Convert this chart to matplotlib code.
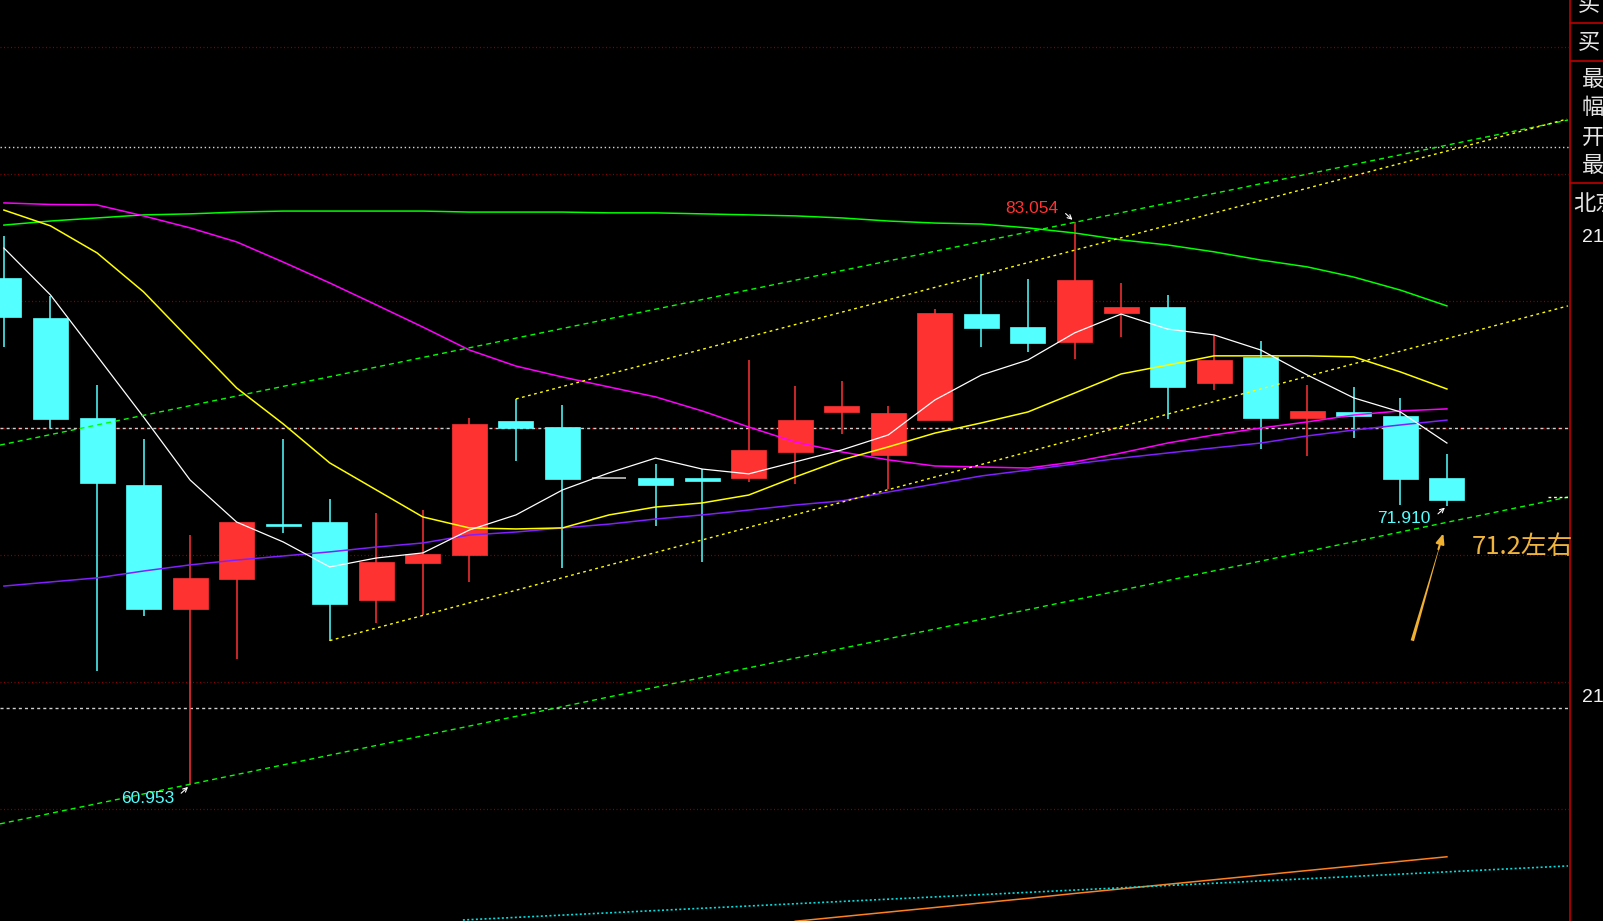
import numpy as np
import matplotlib.pyplot as plt
from matplotlib.lines import Line2D

plt.rcParams['font.family'] = ['Liberation Sans', 'DejaVu Sans']

# daily candles (open, high, low, close)
opens = [80.85, 79.28, 75.35, 72.72, 67.87, 69.05, 71.19, 71.27, 68.23, 69.68,
         69.99, 75.24, 75.00, 72.99, 73.00, 73.00, 73.01, 74.03, 75.59, 73.90,
         75.27, 79.43, 78.92, 78.34, 79.47, 79.71, 76.73, 77.75, 75.35, 75.59,
         75.43, 73.00]
highs = [82.50, 80.14, 76.65, 74.53, 70.76, 71.27, 74.53, 72.18, 71.63, 71.74,
         75.35, 76.10, 75.86, 72.99, 73.55, 73.36, 77.63, 76.61, 76.80, 75.82,
         79.63, 81.00, 80.81, 83.054, 80.65, 80.18, 78.61, 78.37, 76.65, 76.57,
         76.14, 73.94]
lows = [78.15, 74.95, 65.44, 67.60, 60.953, 65.91, 70.83, 66.62, 67.32, 67.62,
        68.93, 73.68, 69.48, 72.99, 71.13, 69.72, 72.85, 72.78, 74.74, 72.57,
        75.27, 78.14, 77.94, 77.67, 78.53, 75.31, 76.45, 74.14, 73.86, 74.57,
        71.95, 71.91]
closes = [79.32, 75.31, 72.82, 67.87, 69.08, 71.27, 71.12, 68.07, 69.70, 70.02,
          75.12, 74.96, 72.97, 72.99, 72.74, 72.89, 74.10, 75.27, 75.82, 75.55,
          79.47, 78.88, 78.30, 80.77, 79.71, 76.57, 77.63, 75.35, 75.63, 75.43,
          72.96, 72.14]

# moving averages
ma5 = [82.02, 80.18, 77.79, 75.39, 72.92, 71.27, 70.49, 69.51, 69.86, 70.06,
       70.96, 71.55, 72.53, 73.20, 73.78, 73.35, 73.16, 73.63, 74.10, 74.69,
       76.06, 77.04, 77.63, 78.69, 79.43, 78.84, 78.61, 78.02, 77.04, 76.14,
       75.59, 74.37]
ma10 = [83.51, 82.89, 81.83, 80.30, 78.41, 76.53, 75.12, 73.59, 72.53, 71.47,
        71.04, 71.00, 71.04, 71.55, 71.86, 72.02, 72.33, 73.04, 73.71, 74.22,
        74.76, 75.16, 75.59, 76.33, 77.08, 77.43, 77.79, 77.79, 77.79, 77.75,
        77.16, 76.49]
ma20 = [83.79, 83.73, 83.71, 83.28, 82.81, 82.26, 81.47, 80.65, 79.79, 78.92,
        78.02, 77.39, 76.96, 76.57, 76.18, 75.63, 75.00, 74.41, 74.02, 73.71,
        73.47, 73.43, 73.39, 73.63, 73.98, 74.37, 74.69, 74.96, 75.20, 75.47,
        75.63, 75.71]
ma60 = [82.92, 83.08, 83.20, 83.32, 83.36, 83.43, 83.47, 83.47, 83.47, 83.47,
        83.43, 83.43, 83.43, 83.40, 83.40, 83.36, 83.32, 83.28, 83.20, 83.08,
        83.00, 82.96, 82.81, 82.61, 82.34, 82.14, 81.87, 81.55, 81.28, 80.88,
        80.37, 79.75]
ma120 = [68.76, 68.92, 69.08, 69.35, 69.59, 69.78, 69.94, 70.10, 70.29, 70.45,
         70.76, 70.88, 71.04, 71.19, 71.39, 71.55, 71.74, 71.94, 72.10, 72.45,
         72.76, 73.08, 73.31, 73.55, 73.78, 73.98, 74.18, 74.37, 74.65, 74.88,
         75.08, 75.27]
# long MA near the bottom, visible from day 17 on
ma250_start = 17
ma250 = [55.61, 55.79, 55.97, 56.15, 56.33, 56.51, 56.70, 56.88, 57.06, 57.24,
         57.42, 57.60, 57.78, 57.96, 58.14]

# drawn trend lines: (x0, y0, x1, y1)
green_up = (-0.084, 74.29, 33.6, 87.04)
green_low = (-0.084, 59.43, 33.6, 72.25)
yellow_up = (11, 76.10, 33.58, 87.08)
yellow_low = (7, 66.62, 33.6, 79.75)
cyan_bottom = (9.86, 55.66, 33.6, 57.78)

grid_red = [89.92, 84.94, 79.95, 74.97, 69.99, 65.01, 60.03]
grid_white = [85.98, 74.95, 63.96]

UP = '#ff3232'
DOWN = '#54ffff'

fig = plt.figure(figsize=(16.03, 9.21), dpi=100, facecolor='black')
ax = fig.add_axes([0, 0, 1570 / 1603, 1])
ax.set_facecolor('black')
ax.set_xlim(-0.084, 33.644)
ax.set_ylim(55.62, 91.75)
ax.axis('off')

# grid
for g in grid_red:
    ax.axhline(g, color='#8a0000', lw=0.9, ls=(0, (0.8, 2.0)), zorder=1)
ax.axhline(grid_white[0], color='#d8d8d8', lw=1, ls=(0, (1, 2)), zorder=1)
for g in grid_white[1:]:
    ax.axhline(g, color='#d0d0d0', lw=1, ls=(0, (2.2, 2.2)), zorder=1)

# candles
x = np.arange(len(opens))
for i in x:
    o, h, l, c = opens[i], highs[i], lows[i], closes[i]
    if o == c:
        ax.hlines(c, i - 0.37, i + 0.37, color='#c0c0c0', lw=1.2, zorder=3)
        continue
    col = UP if c > o else DOWN
    ax.vlines(i, l, h, color=col, lw=1.1, zorder=2)
    ax.bar(i, abs(c - o), bottom=min(o, c), width=0.752, color=col,
           edgecolor=col, lw=0.5, zorder=3)

# moving averages
ax.plot(x, ma60, color='#00ff00', lw=1.1, zorder=4)
ax.plot(x, ma20, color='#ff00ff', lw=1.1, zorder=4)
ax.plot(x, ma120, color='#8020ff', lw=1.1, zorder=4)
ax.plot(x, ma10, color='#ffff00', lw=1.1, zorder=4)
ax.plot(x, ma5, color='#ffffff', lw=0.9, zorder=5)
ax.plot(np.arange(ma250_start, ma250_start + len(ma250)), ma250,
        color='#ff8020', lw=1.1, zorder=4)

# trend lines
for ln in (green_up, green_low):
    ax.plot([ln[0], ln[2]], [ln[1], ln[3]], color='#00ff00', lw=1,
            ls=(0, (3.6, 2.9)), zorder=6)
for ln in (yellow_up, yellow_low):
    ax.plot([ln[0], ln[2]], [ln[1], ln[3]], color='#ffff00', lw=1,
            ls=(0, (2, 2.5)), zorder=6)
ax.plot([cyan_bottom[0], cyan_bottom[2]], [cyan_bottom[1], cyan_bottom[3]],
        color='#00e0e0', lw=1.2, ls=(0, (1.2, 1.4)), zorder=6)
ax.hlines(72.27, 33.17, 33.6, color='#ffffc8', lw=1, ls=(0, (2, 2)), zorder=6)

# high / low labels
def mark(xi, price, text, color, dy):
    ax.annotate('', xy=(xi, price), xytext=(-11, 10 * dy),
                textcoords='offset pixels',
                arrowprops=dict(arrowstyle='->,head_length=0.3,head_width=0.15',
                                color='white', lw=0.8), zorder=8)
    ax.annotate(text, xy=(xi, price), xytext=(-16, 13 * dy),
                textcoords='offset pixels', ha='right', va='center',
                color=color, fontsize=12.5, zorder=8)

mark(23, 83.054, '83.054', '#ff3232', 1)
mark(4, 60.953, '60.953', '#54ffff', -1)
mark(31, 71.91, '71.910', '#54ffff', -1)

# target note
ax.annotate('', xy=(30.94, 70.93), xytext=(30.24, 66.51),
            arrowprops=dict(arrowstyle='wedge,tail_width=0.25,shrink_factor=0.5',
                            color='#f0b030', lw=0), zorder=8)
ax.annotate('', xy=(30.94, 70.93), xytext=(30.80, 70.10),
            arrowprops=dict(arrowstyle='-|>,head_length=0.6,head_width=0.25',
                            color='#f0b030', lw=1.5), zorder=8)
ax.text(31.53, 70.30, '71.2左右', color='#f0b43c', fontsize=18.5,
        ha='left', va='center', family=['Noto Sans CJK SC', 'DejaVu Sans'],
        zorder=9, clip_on=False)

# right-hand info panel (cut off)
xr = 1570 / 1603
fig.add_artist(Line2D([xr, xr], [0, 1], transform=fig.transFigure,
                      color='#b00000', lw=1.3, zorder=-1))
for yp in (22.7, 60.7, 183):
    fig.add_artist(Line2D([xr, 1], [1 - yp / 921] * 2,
                          transform=fig.transFigure, color='#b00000', lw=1.3))

cjk = ['Noto Sans CJK SC', 'DejaVu Sans']
panel = [('买', 1578, 5), ('买', 1578, 43), ('最', 1582, 79), ('幅', 1582, 107),
         ('开', 1582, 137), ('最', 1582, 166), ('北京', 1573, 204)]
for s, px, py in panel:
    fig.text(px / 1603, 1 - py / 921, s, color='#e6e6e6', fontsize=16,
             family=cjk, ha='left', va='center')
for py in (237, 697):
    fig.text(1582 / 1603, 1 - py / 921, '21', color='#f0f0f0', fontsize=14,
             ha='left', va='center')

fig.savefig('out.png', dpi=100, facecolor='black')
